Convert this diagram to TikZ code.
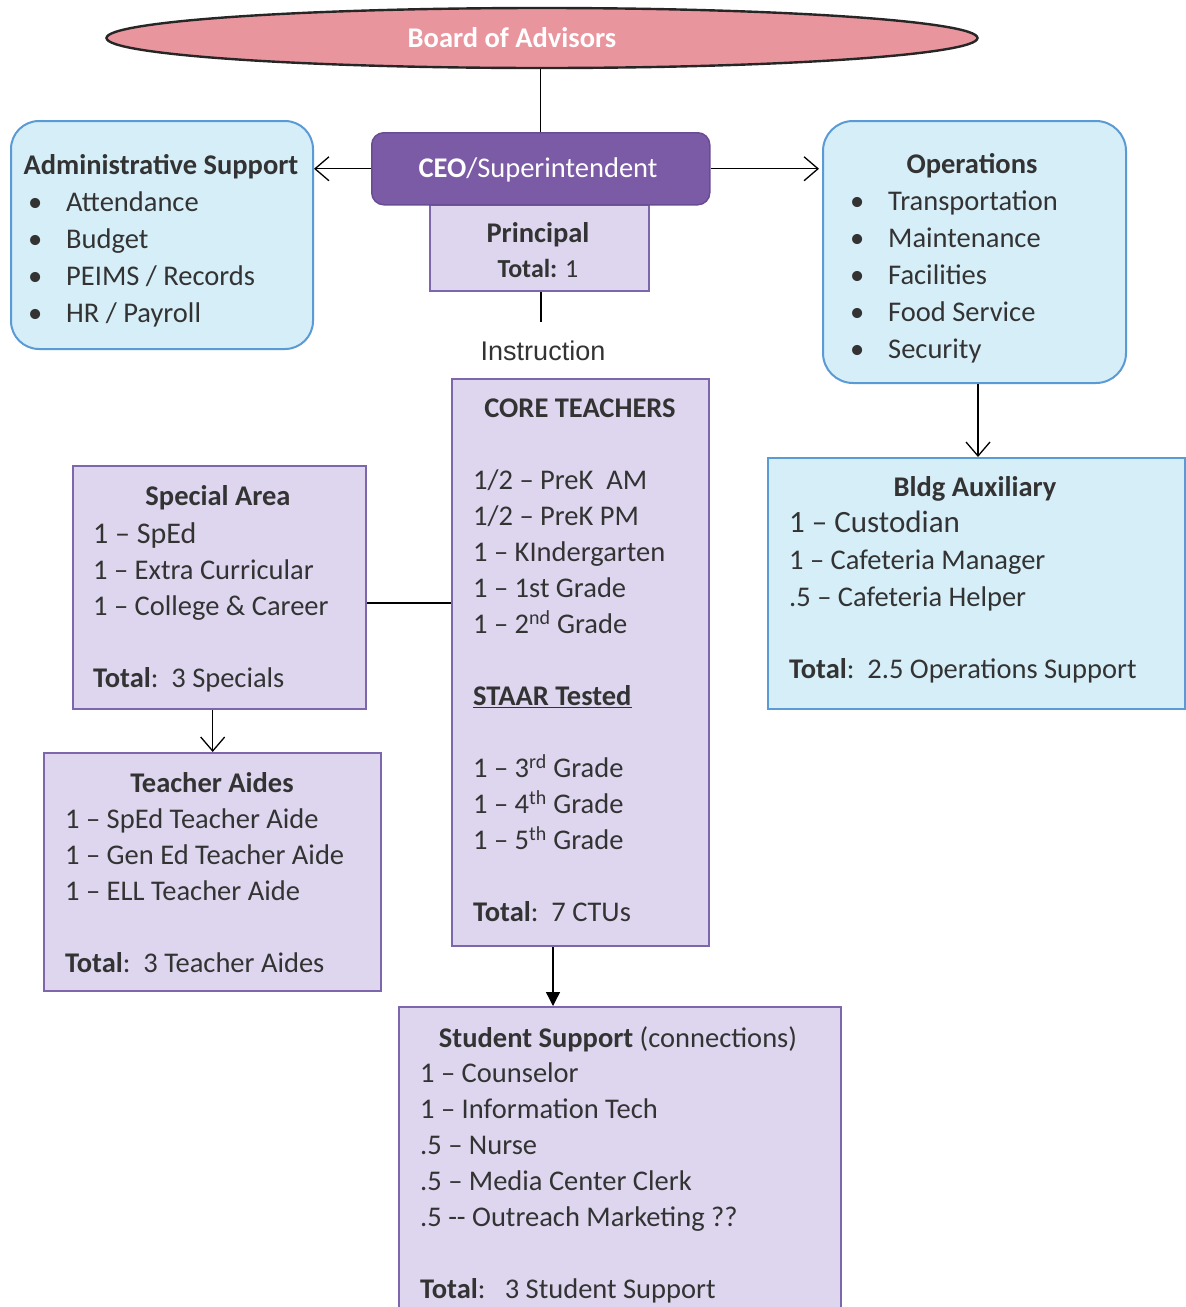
\documentclass[tikz,border=0pt]{standalone}
\usepackage{fontspec}
\setmainfont{Carlito}
\newfontfamily\arialf{Liberation Sans}
\usetikzlibrary{shapes.geometric,arrows.meta,calc}
\definecolor{txtc}{HTML}{333333}
\definecolor{lav}{HTML}{DDD6EE}
\definecolor{lavb}{HTML}{7E66AC}
\definecolor{lblue}{HTML}{D6EEF8}
\definecolor{blueb}{HTML}{5B9BD5}
\definecolor{ceof}{HTML}{7B5BA5}
\definecolor{ceob}{HTML}{6A4C94}
\definecolor{pinkf}{HTML}{E9959E}
\newcommand\fstrut{\rule{0pt}{22pt}}
\newcommand\bul{\makebox[38pt][l]{\textbullet}}
\begin{document}
\begin{tikzpicture}[x=1pt,y=-1pt,
  lavbox/.style={draw=lavb,fill=lav,line width=2.4pt,anchor=north west,inner sep=0pt},
  bluebox/.style={draw=blueb,fill=lblue,line width=2pt,anchor=north west,inner sep=0pt},
  body/.style={font=\fontsize{28.5}{36}\selectfont,text=txtc,inner sep=0pt,align=left,anchor=north west},
  bodyb/.style={font=\fontsize{28.5}{37}\selectfont,text=txtc,inner sep=0pt,align=left,anchor=north west},
  ttl/.style={font=\fontsize{28.5}{36}\selectfont\bfseries,text=txtc,inner sep=0pt,anchor=base},
  conn/.style={draw=black,line width=1.3pt},
  openarr/.style={conn,-{Straight Barb[length=14pt,width=24pt,line width=1.3pt]}},
  filarr/.style={conn,-{Triangle[length=14pt,width=14pt]}}
]
\useasboundingbox (0,0) rectangle (1186,1307);
\fill[white] (0,0) rectangle (1186,1307);

% boxes
\node[ellipse,draw=black!85,fill=pinkf,line width=2.4pt,minimum width=871pt,minimum height=60pt,inner sep=0pt] (board) at (542,38) {};
\node[lavbox,minimum width=219pt,minimum height=86pt] (principal) at (429,204) {};
\node[draw=ceob,fill=ceof,line width=1.5pt,rounded corners=12pt,anchor=north west,minimum width=338pt,minimum height=72pt,inner sep=0pt] (ceo) at (371,132) {};
\node[bluebox,rounded corners=28pt,minimum width=302pt,minimum height=228pt] (admin) at (10,120) {};
\node[bluebox,rounded corners=30pt,minimum width=303pt,minimum height=262pt] (ops) at (822,120) {};
\node[bluebox,minimum width=417pt,minimum height=251pt] (bldg) at (767,457) {};
\node[lavbox,minimum width=257pt,minimum height=567pt] (core) at (451,378) {};
\node[lavbox,minimum width=293pt,minimum height=243pt] (special) at (72,465) {};
\node[lavbox,minimum width=337pt,minimum height=238pt] (aides) at (43,752) {};
\node[lavbox,minimum width=442pt,minimum height=330pt] (student) at (398,1006) {};

% connectors
\draw[conn] (ceo.north) -- (ceo.north |- board.south);
\coordinate (instrtop) at (541,322);
\draw[conn] (principal.south -| instrtop) -- (instrtop);
\draw[openarr] (ceo.west) -- (ceo.west -| admin.east);
\draw[openarr] (ceo.east) -- ([xshift=-3pt]ceo.east -| ops.west);
\draw[openarr] (ops.south -| 978,0) -- (bldg.north -| 978,0);
\path (special.north east) ++(0,138) coordinate (sa);
\draw[conn] (sa) -- (sa -| core.west);
\draw[openarr] (aides.north |- special.south) -- (aides.north);
\draw[filarr] (core.south -| 553,0) -- (student.north -| 553,0);

% texts
\node[font=\fontsize{28.5}{36}\selectfont\bfseries,text=white,inner sep=0pt,anchor=base] (tboard) at (512,47) {Board of Advisors};
\node[font=\fontsize{28.5}{36}\selectfont,text=white,inner sep=0pt,anchor=base] (tceo) at (538,177) {\textbf{CEO}/Superintendent};
\node[ttl] (tprin) at (538,242) {Principal};
\node[font=\fontsize{26}{30}\selectfont,text=txtc,inner sep=0pt,anchor=base] (tprin2) at (538,277) {\textbf{Total:} 1};
\node[font=\arialf\fontsize{27}{32}\selectfont,text=txtc,inner sep=0pt,anchor=base] (tinstr) at (543,360) {Instruction};

\node[ttl] (tadmin) at (161,174) {Administrative Support};
\node[bodyb] (ladmin) at (28,189) {\fstrut\bul Attendance\\ \bul Budget\\ \bul PEIMS / Records\\ \bul HR / Payroll};

\node[ttl] (tops) at (972,173) {Operations};
\node[bodyb] (lops) at (850,188) {\fstrut\bul Transportation\\ \bul Maintenance\\ \bul Facilities\\ \bul Food Service\\ \bul Security};

\node[ttl] (tbldg) at (975,496) {Bldg Auxiliary};
\node[bodyb] (lbldg) at (789,510) {\fstrut{\fontsize{31}{37}\selectfont 1 – Custodian}\\ 1 – Cafeteria Manager\\ .5 – Cafeteria Helper\\[35pt] \textbf{Total}:\ \ 2.5 Operations Support};

\node[ttl] (tcore) at (580,417) {CORE TEACHERS};
\node[body] (lcore) at (473,467) {\fstrut 1/2 – PreK\ \ AM\\ 1/2 – PreK PM\\ 1 – KIndergarten\\ 1 – 1st Grade\\ 1 – 2\textsuperscript{nd} Grade\\[36pt] \textbf{\underline{STAAR Tested}}\\[36pt] 1 – 3\textsuperscript{rd} Grade\\ 1 – 4\textsuperscript{th} Grade\\ 1 – 5\textsuperscript{th} Grade\\[36pt] \textbf{Total}:\ \ 7 CTUs};

\node[ttl] (tspec) at (218,505) {Special Area};
\node[body] (lspec) at (93,521) {\fstrut{\fontsize{30}{36}\selectfont 1 – SpEd}\\ 1 – Extra Curricular\\ 1 – College \& Career\\[36pt] \textbf{Total}:\ \ 3 Specials};

\node[ttl] (taides) at (212,792) {Teacher Aides};
\node[body] (laides) at (65,806) {\fstrut 1 – SpEd Teacher Aide\\ 1 – Gen Ed Teacher Aide\\ 1 – ELL Teacher Aide\\[36pt] \textbf{Total}:\ \ 3 Teacher Aides};

\node[font=\fontsize{28.5}{36}\selectfont,text=txtc,inner sep=0pt,anchor=base] (tstud) at (618,1047) {\textbf{Student Support} (connections)};
\node[body] (lstud) at (420,1060) {\fstrut 1 – Counselor\\ 1 – Information Tech\\ .5 – Nurse\\ .5 – Media Center Clerk\\ .5 -{}- Outreach Marketing ??\\[36pt] \textbf{Total}:\ \ \ 3 Student Support};
\end{tikzpicture}
\end{document}
